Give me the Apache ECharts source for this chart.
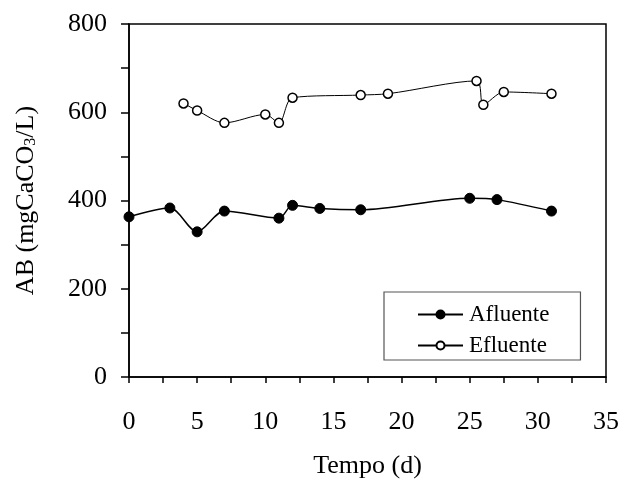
<!DOCTYPE html>
<html><head><meta charset="utf-8">
<script src="https://cdn.jsdelivr.net/npm/echarts@6/dist/echarts.min.js"></script>
<style>html,body{margin:0;padding:0;background:#fff}#c{width:625px;height:487px}</style>
</head><body><div id="c"></div>
<script>
const afluenteDays = [0, 3, 5, 7, 11, 12, 14, 17, 25, 27, 31];
const afluenteValues = [363, 383, 329, 376, 360, 389, 382, 379, 405, 402, 376];
const efluenteDays = [4, 5, 7, 10, 11, 12, 17, 19, 25.5, 26, 27.5, 31];
const efluenteValues = [620, 604, 576, 595, 576, 633, 639, 642, 671, 617, 646, 642];
const xTicks = [0, 5, 10, 15, 20, 25, 30, 35];
const yTicks = [0, 200, 400, 600, 800];

const FONT = 'Liberation Serif';
const chart = echarts.init(document.getElementById('c'));
chart.setOption({
  animation: false,
  backgroundColor: '#fff',
  grid: { left: 129, right: 19, top: 24, bottom: 110, show: true, borderColor: '#000', borderWidth: 1.5, backgroundColor: 'transparent' },
  xAxis: {
    type: 'value', min: xTicks[0], max: xTicks[xTicks.length - 1], interval: 5,
    name: 'Tempo (d)', nameLocation: 'middle', nameGap: 76,
    nameTextStyle: { fontFamily: FONT, fontSize: 26, color: '#000' },
    axisLine: { show: true, lineStyle: { color: '#000', width: 1.5 } },
    axisTick: { show: true, inside: false, length: 6, lineStyle: { color: '#000', width: 1.5 } },
    minorTick: { show: true, splitNumber: 2, length: 6, lineStyle: { color: '#000', width: 1.5 } },
    axisLabel: { fontFamily: FONT, fontSize: 26, color: '#000', margin: 32 },
    splitLine: { show: false }
  },
  yAxis: {
    type: 'value', min: yTicks[0], max: yTicks[yTicks.length - 1], interval: 200,
    name: 'AB (mgCaCO{sub|3}/L)', nameLocation: 'middle', nameGap: 90, nameRotate: 90,
    nameTextStyle: { fontFamily: FONT, fontSize: 26, color: '#000',
      rich: { sub: { fontFamily: FONT, fontSize: 16, color: '#000', verticalAlign: 'bottom', padding: [10, 0, 0, 0] } } },
    axisLine: { show: true, lineStyle: { color: '#000', width: 1.5 } },
    axisTick: { show: true, inside: false, length: 8, lineStyle: { color: '#000', width: 1.5 } },
    minorTick: { show: true, splitNumber: 2, length: 8, lineStyle: { color: '#000', width: 1.5 } },
    axisLabel: { fontFamily: FONT, fontSize: 26, color: '#000', margin: 22 },
    splitLine: { show: false }
  },
  legend: {
    left: 384, top: 292, orient: 'vertical',
    padding: [11, 31, 3, 33], itemGap: 8,
    borderColor: '#555', borderWidth: 1.2, backgroundColor: '#fff',
    itemWidth: 45, itemHeight: 10,
    textStyle: { fontFamily: FONT, fontSize: 23, color: '#000', lineHeight: 23, padding: [0, 0, 0, 1] },
    data: ['Afluente', 'Efluente']
  },
  series: [
    {
      name: 'Afluente', type: 'line', smooth: 0.3,
      data: afluenteDays.map((d, i) => [d, afluenteValues[i]]),
      symbol: 'circle', symbolSize: 10,
      itemStyle: { color: '#000', borderColor: '#000', borderWidth: 1 },
      lineStyle: { color: '#000', width: 1.5 }
    },
    {
      name: 'Efluente', type: 'line', smooth: 0.3,
      data: efluenteDays.map((d, i) => [d, efluenteValues[i]]),
      symbol: 'circle', symbolSize: 9,
      itemStyle: { color: '#fff', borderColor: '#000', borderWidth: 1.5 },
      lineStyle: { color: '#000', width: 1 }
    }
  ]
});
</script></body></html>
